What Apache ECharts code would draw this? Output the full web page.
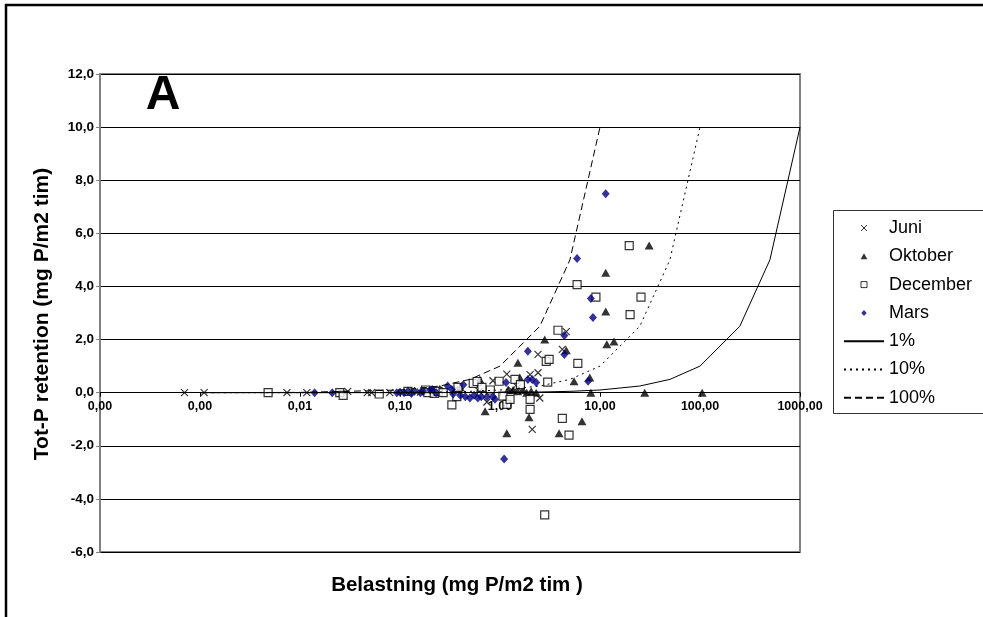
<!DOCTYPE html>
<html>
<head>
<meta charset="utf-8">
<script src="https://cdn.jsdelivr.net/npm/echarts@6/dist/echarts.min.js"></script>
<style>
  html, body { margin: 0; padding: 0; background: #fff; }
  #chart { width: 983px; height: 617px; }
</style>
</head>
<body>
<div id="chart"></div>
<script>
// Tot-P retention versus load, per sampling month, with 1 %, 10 % and 100 % reference curves
const juni = [
  [0.0007, 0], [0.0011, 0], [0.0074, 0], [0.0117, 0], [0.030, 0.05], [0.047, 0], [0.052, 0],
  [0.079, 0], [0.16, 0.02], [0.23, 0.05], [0.35, 0.1], [0.62, 0.05], [0.74, -0.35], [0.85, 0.45],
  [1.17, 0.7], [1.3, 0.1], [1.5, 0.2], [2.0, 0.68], [2.4, 0.75], [2.1, -1.38], [2.5, -0.2],
  [2.4, 1.44], [4.2, 1.63], [4.6, 2.3]
];
const oktober = [
  [0.25, 0.15], [0.4, 0.2], [0.63, 0.5], [0.71, -0.7], [1.17, -1.53], [1.2, 0.1], [1.35, 0.1],
  [1.5, 0.05], [1.51, 1.13], [1.58, 0.57], [1.7, 0.1], [1.85, 0], [2.05, 0.05], [2.3, 0],
  [1.95, -0.93], [2.8, 2.0], [4.6, 1.6], [5.5, 0.43], [3.9, -1.53], [6.6, -1.08], [7.9, 0.57],
  [8.1, 0], [11.4, 3.06], [11.7, 1.82], [13.8, 1.93], [11.4, 4.52], [31, 5.54], [28, 0], [105, 0]
];
const december = [
  [0.0048, 0], [0.025, 0], [0.027, -0.1], [0.062, -0.05], [0.12, 0.05], [0.18, 0.1], [0.19, 0],
  [0.22, -0.03], [0.24, 0.05], [0.27, 0], [0.33, -0.46], [0.37, -0.15], [0.38, 0.2], [0.54, 0.35],
  [0.59, 0.42], [0.66, 0.2], [0.8, 0.1], [0.98, 0.43], [1.07, -0.13], [1.17, -0.44], [1.26, -0.25],
  [1.41, 0.5], [1.6, 0.3], [2.0, -0.25], [2.0, -0.63], [3.0, 0.4], [2.9, 1.18], [3.1, 1.25],
  [3.8, 2.35], [6.0, 1.1], [4.2, -0.97], [4.9, -1.6], [2.8, -4.6], [20, 2.94], [19.6, 5.54],
  [5.9, 4.07], [9.1, 3.6], [25.7, 3.6]
];
const mars = [
  [0.014, 0], [0.021, 0], [0.093, 0], [0.1, 0.02], [0.11, 0], [0.12, 0.05], [0.13, -0.03],
  [0.14, 0.05], [0.16, 0], [0.17, 0.05], [0.2, 0.1], [0.21, 0.12], [0.23, 0], [0.3, 0.25],
  [0.33, 0.12], [0.34, -0.05], [0.43, 0.3], [0.4, -0.1], [0.45, -0.15], [0.5, -0.2], [0.55, -0.1],
  [0.6, -0.2], [0.65, -0.15], [0.74, -0.15], [0.85, -0.15], [0.89, -0.25], [1.1, -2.5],
  [1.15, 0.38], [1.9, 0.5], [2.1, 0.5], [2.3, 0.38], [1.9, 1.56], [4.4, 2.15], [4.4, 1.44],
  [7.6, 0.43], [8.5, 2.83], [8.1, 3.55], [5.9, 5.05], [11.4, 7.49]
];

// reference curves: retention equal to 1 %, 10 % and 100 % of the load
const curveX1 = [0.001, 0.01, 0.1, 0.25, 0.5, 1, 2.5, 5, 10, 25, 50, 100, 250, 500, 1000];
const curveY1 = [0.00001, 0.0001, 0.001, 0.0025, 0.005, 0.01, 0.025, 0.05, 0.1, 0.25, 0.5, 1, 2.5, 5, 10];
const curveX10 = [0.001, 0.01, 0.1, 0.25, 0.5, 1, 2.5, 5, 10, 25, 50, 100];
const curveY10 = [0.0001, 0.001, 0.01, 0.025, 0.05, 0.1, 0.25, 0.5, 1, 2.5, 5, 10];
const curveX100 = [0.001, 0.01, 0.1, 0.25, 0.5, 1, 2.5, 5, 10];
const curveY100 = [0.001, 0.01, 0.1, 0.25, 0.5, 1, 2.5, 5, 10];

const xTickLabels = ['0,00', '0,00', '0,01', '0,10', '1,00', '10,00', '100,00', '1000,00'];
const yTickLabels = ['-6,0', '-4,0', '-2,0', '0,0', '2,0', '4,0', '6,0', '8,0', '10,0', '12,0'];

const FONT = 'Liberation Sans, Arial, sans-serif';
const zip = (xs, ys) => xs.map((x, i) => [x, ys[i]]);

// marker shapes as paths so legend icons keep their aspect
const crossPath = 'path://M0,0L10,10M10,0L0,10';
const trianglePath = 'path://M5,0L10,9L0,9Z';
const squarePath = 'path://M0,0L10,0L10,10L0,10Z';
const diamondPath = 'path://M5,0L10,5.5L5,11L0,5.5Z';

// plot box geometry (pixels)
const GRID = { left: 100, right: 183, top: 74, bottom: 65 };
const Y_MIN = -6, Y_MAX = 12;
const plotHeight = 617 - GRID.top - GRID.bottom;
// the category axis crosses the value axis at 0
const xAxisOffset = -plotHeight * (0 - Y_MIN) / (Y_MAX - Y_MIN);

const noSymbol = { color: 'rgba(0,0,0,0)', borderWidth: 0 };

const chart = echarts.init(document.getElementById('chart'), null, { renderer: 'canvas' });

chart.setOption({
  animation: false,
  backgroundColor: '#fff',
  textStyle: { fontFamily: FONT },
  grid: Object.assign({
    show: true, borderColor: '#808080', borderWidth: 2, backgroundColor: '#fff'
  }, GRID),
  xAxis: {
    type: 'log', logBase: 10, min: 0.0001, max: 1000,
    position: 'bottom', offset: xAxisOffset,
    axisLine: { onZero: false, lineStyle: { color: '#000', width: 1 } },
    axisTick: { show: true, length: 4, lineStyle: { color: '#000' } },
    minorTick: { show: false },
    splitLine: { show: false },
    axisLabel: {
      margin: 7, color: '#000', fontWeight: 'bold', fontSize: 12.5, fontFamily: FONT,
      showMinLabel: true, showMaxLabel: true,
      formatter: v => xTickLabels[Math.round(Math.log10(v)) + 4]
    }
  },
  yAxis: {
    type: 'value', min: Y_MIN, max: Y_MAX, interval: 2,
    axisLine: { show: true, onZero: false, lineStyle: { color: '#808080', width: 2 } },
    axisTick: { show: true, length: 4, lineStyle: { color: '#808080' } },
    splitLine: { show: true, lineStyle: { color: '#000', width: 1 } },
    axisLabel: {
      margin: 6, color: '#000', fontWeight: 'bold', fontSize: 13.5, fontFamily: FONT,
      formatter: v => yTickLabels[Math.round((v - Y_MIN) / 2)]
    }
  },
  legend: {
    orient: 'vertical', left: 843, top: 218, padding: 0,
    itemWidth: 40, itemHeight: 6, itemGap: 8.3, symbolKeepAspect: true,
    textStyle: { fontSize: 18, lineHeight: 20, color: '#000', fontFamily: FONT },
    data: [
      { name: 'Juni', itemStyle: { borderColor: '#000', borderWidth: 1 } },
      { name: 'Oktober', itemStyle: { borderWidth: 0 } },
      { name: 'December', itemStyle: { borderColor: '#000', borderWidth: 1 } },
      { name: 'Mars', itemStyle: { borderWidth: 0 } },
      { name: '1%', itemStyle: noSymbol },
      { name: '10%', itemStyle: noSymbol },
      { name: '100%', itemStyle: noSymbol }
    ]
  },
  graphic: [
    { type: 'rect', silent: true, z: -1,
      shape: { x: 6, y: 5, width: 1000, height: 700 },
      style: { fill: 'none', stroke: '#000', lineWidth: 2.5 } },
    { type: 'rect', silent: true,
      shape: { x: 833.5, y: 210.5, width: 152, height: 203 },
      style: { fill: 'none', stroke: '#333', lineWidth: 1 } },
    { type: 'text', silent: true, x: 163, y: 96,
      style: { text: 'A', font: 'bold 48px ' + FONT, fill: '#000', textAlign: 'center', textVerticalAlign: 'middle' } },
    { type: 'text', silent: true, x: 42, y: 314, rotation: Math.PI / 2,
      style: { text: 'Tot-P retention (mg P/m2 tim)', font: 'bold 21px ' + FONT, fill: '#000', textAlign: 'center', textVerticalAlign: 'middle' } },
    { type: 'text', silent: true, x: 457, y: 585,
      style: { text: 'Belastning (mg P/m2 tim )', font: 'bold 20.5px ' + FONT, fill: '#000', textAlign: 'center', textVerticalAlign: 'middle' } }
  ],
  series: [
    { name: 'Juni', type: 'scatter', data: juni, symbol: crossPath, symbolSize: 7,
      itemStyle: { color: '#000', borderColor: '#000', borderWidth: 1.2 } },
    { name: 'Oktober', type: 'scatter', data: oktober, symbol: trianglePath, symbolSize: [9, 8],
      itemStyle: { color: '#000' } },
    { name: 'December', type: 'scatter', data: december, symbol: squarePath, symbolSize: 8,
      itemStyle: { color: '#fff', borderColor: '#000', borderWidth: 1.2 } },
    { name: 'Mars', type: 'scatter', data: mars, symbol: diamondPath, symbolSize: [8, 9],
      itemStyle: { color: '#000080' } },
    { name: '1%', type: 'line', data: zip(curveX1, curveY1), symbol: 'none', showSymbol: false,
      lineStyle: { color: '#000', width: 1, type: 'solid' }, itemStyle: { color: '#000' } },
    { name: '10%', type: 'line', data: zip(curveX10, curveY10), symbol: 'none', showSymbol: false,
      lineStyle: { color: '#000', width: 1, type: [2, 4] }, itemStyle: { color: '#000' } },
    { name: '100%', type: 'line', data: zip(curveX100, curveY100), symbol: 'none', showSymbol: false,
      lineStyle: { color: '#000', width: 1, type: [7, 4] }, itemStyle: { color: '#000' } }
  ]
});
</script>
</body>
</html>
